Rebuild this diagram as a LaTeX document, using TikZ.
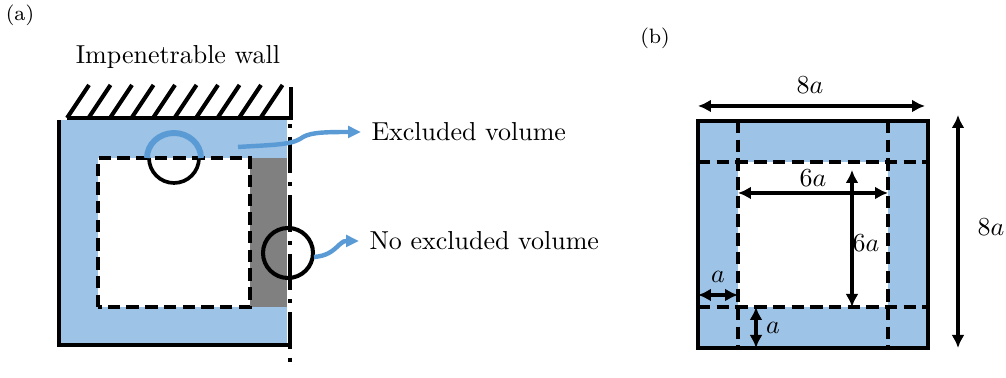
\documentclass[tikz,border=0pt]{standalone}
\usetikzlibrary{arrows.meta}
\tikzset{
    every picture/.style={
        line width=0.5mm,
        dashed edge/.style={dash pattern=on 4.8pt off 2.4pt, line width=0.48mm}
    },
    % Style for the texts beside the pointers
    side label/.style={
        anchor=west
    },
    % Style for the lengths
    dim label/.style={
        font=\normalsize
    },
    dim arrow/.style={
        {Latex[length=5pt,width=5pt]}-{Latex[length=5pt,width=5pt]},
        line width=0.5mm
    },
    pointer/.style={
        draw=pointerBlue, line width=0.6mm,
        -{Triangle[length=5pt,width=4.5pt]}
    }
}
\definecolor{excludedArea}{RGB}{157,195,230}
\definecolor{pointerBlue}{RGB}{91,155,213}
\definecolor{gapArea}{RGB}{128,128,128}

\begin{document}
\begin{tikzpicture}[x=0.385pt,y=0.385pt]

% Set the canvas size
\path[use as bounding box] (0,0) rectangle (1006,378);

% panel (a)
\node[font=\footnotesize] (labelA) at (20,363) {(a)};
\node (wallText) at (178,321) {Impenetrable wall};

\fill[excludedArea] (58,33) rectangle (287,258);
\fill[gapArea] (250,71) rectangle (287,220);
\draw[dashed edge, fill=white] (98,71) rectangle (250,220);

% monomer at the bottom of the band
\draw (149,220) arc[start angle=180, end angle=360, radius=25];
\draw[pointerBlue, line width=0.8mm] (147,220) arc[start angle=180, end angle=0, x radius=27, y radius=25];

% solid edges and wall
\draw[line width=0.55mm] (59,258) -- (59,33) -- (289,33);
\draw[line width=0.55mm] (67,260) -- (291,260) -- (291,291);
\foreach \i in {0,...,9}
    \draw[line width=0.55mm] (67+21.5*\i,260) -- ++(22,33);

%periodic boundary
\draw[line width=0.55mm, dash pattern=on 14pt off 3.5pt on 1.5pt off 3.5pt, dash phase=16pt]
    (290,258) -- (290,8);

\draw[line width=0.55mm] (288,125) circle[radius=25];

% pointers
\node[side label] (exclText) at (361,246) {Excluded volume};
\node[side label] (noExclText) at (359,137) {No excluded volume};
\coordinate (exclStart) at (238,231);
\coordinate (noExclStart) at (314,121);

\draw[pointer] (exclStart) .. controls (270,233) and (290,233) .. (300,239)
    .. controls (308,245) and (318,246) .. (exclText.west);
\draw[pointer] (noExclStart) .. controls (326,122) and (332,126) .. (339,133)
    .. controls (344,137) .. (noExclText.west);

% panel (b)
\node[font=\footnotesize] (labelB) at (655,340) {(b)};

\fill[excludedArea] (698,30) rectangle (928,257);
\fill[white] (738,71) rectangle (888,216);
\foreach \x in {738,888}
    \draw[dashed edge] (\x,257) -- (\x,30);
\foreach \y in {71,216}
    \draw[dashed edge] (698,\y) -- (928,\y);
\draw[line width=0.6mm] (698,30) rectangle (928,257);

%horizontal lengths
\draw[dim arrow] (698,272) -- (925,272);
\node[dim label] (outerW) at (810,293) {$8a$};

\draw[dim arrow] (738,185) -- (888,185);
\node[dim label] (innerW) at (813,200) {$6a$};

\draw[dim arrow] (698,83) -- (738,83);
\node[dim label] (bandW) at (718,101) {$a$};

%vertical lengths
\draw[dim arrow] (958,263) -- (958,30);
\node[dim label] (outerH) at (991,151) {$8a$};

\draw[dim arrow] (852,208) -- (852,71);
\node[dim label] (innerH) at (866,135) {$6a$};

\draw[dim arrow] (756,71) -- (756,30);
\node[dim label] (bandH) at (773,50) {$a$};

\end{tikzpicture}
\end{document}
